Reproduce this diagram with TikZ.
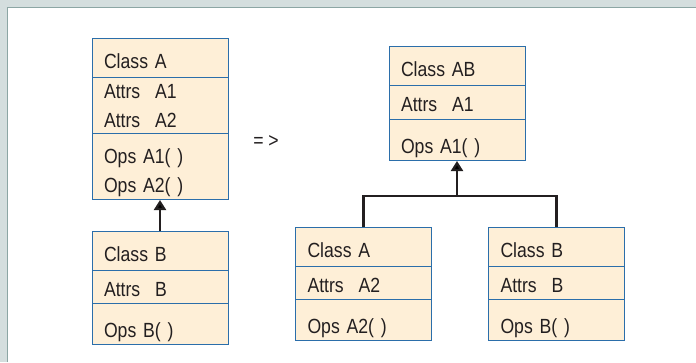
\documentclass[tikz,border=0pt]{standalone}
\usepackage{fontspec}
\setmainfont{Liberation Sans}[FakeStretch=0.86]
\usetikzlibrary{shapes.multipart,arrows.meta,positioning}
\definecolor{umlblue}{RGB}{43,110,170}
\definecolor{umlfill}{RGB}{254,239,215}
\definecolor{inkgray}{RGB}{35,31,32}
\definecolor{framegray}{RGB}{212,222,222}
\definecolor{frameline}{RGB}{140,166,164}
% strut with given height and depth
\newcommand{\rowstrut}[2]{\rule[-#2]{0pt}{\dimexpr #1+#2\relax}}
\tikzset{
    %Define style for class boxes
    umlclass/.style={
           rectangle split,
           rectangle split parts=3,
           draw=umlblue, line width=1pt,
           fill=umlfill,
           text=inkgray,
           text width=112pt,
           inner xsep=12pt, inner ysep=0pt,
           font=\fontsize{20.5}{29}\selectfont},
    % Define connector styles
    link/.style={
           draw=inkgray,
           line width=2.2pt},
    inherit/.style={
           link,
           -{Triangle[length=10pt,width=12pt]}}
}
\begin{document}
\begin{tikzpicture}[x=1pt,y=-1pt]
         \useasboundingbox (0,0) rectangle (696,362);
         %frame
          \fill[framegray] (0,0) rectangle (696,7);
          \fill[framegray] (0,0) rectangle (7,362);
          \draw[frameline, line width=1pt] (7.5,362) |- (696,7.5);
         %before
          \node[umlclass, anchor=north] (clsA) at (160,38)
          {\rowstrut{29pt}{9pt}Class A
           \nodepart{second}\rowstrut{20.5pt}{0pt}Attrs\hspace{15pt}A1\\Attrs\hspace{15pt}A2\rowstrut{0pt}{5.5pt}
           \nodepart{third}\rowstrut{29pt}{0pt}Ops A1( )\\Ops A2( )\rowstrut{0pt}{7pt}};
          \node[umlclass, below=31pt of clsA] (clsB)
          {\rowstrut{29pt}{9pt}Class B
           \nodepart{second}\rowstrut{25.5pt}{6.5pt}Attrs\hspace{15pt}B
           \nodepart{third}\rowstrut{33pt}{7pt}Ops B( )};
          \node[text=inkgray, font=\fontsize{20.5}{29}\selectfont] (implies) at (266,142) {= >};
         %after
          \node[umlclass, anchor=north] (clsAB) at (457,46)
          {\rowstrut{29pt}{9pt}Class AB
           \nodepart{second}\rowstrut{25.5pt}{7.5pt}Attrs\hspace{15pt}A1
           \nodepart{third}\rowstrut{33pt}{7pt}Ops A1( )};
          \node[umlclass, anchor=north] (clsA2) at (363.5,227)
          {\rowstrut{29pt}{9pt}Class A
           \nodepart{second}\rowstrut{25.5pt}{6.5pt}Attrs\hspace{15pt}A2
           \nodepart{third}\rowstrut{33pt}{7pt}Ops A2( )};
          \node[umlclass, right=56pt of clsA2] (clsB2)
          {\rowstrut{29pt}{9pt}Class B
           \nodepart{second}\rowstrut{25.5pt}{6.5pt}Attrs\hspace{15pt}B
           \nodepart{third}\rowstrut{33pt}{7pt}Ops B( )};
         %connectors
          \coordinate (join) at ([yshift=-35pt]clsAB.south);
          \draw[inherit] (clsB.north) -- (clsA.south);
          \draw[link] (clsA2.north) |- (join) -| (clsB2.north);
          \draw[inherit] (join) -- (clsAB.south);
\end{tikzpicture}
\end{document}
